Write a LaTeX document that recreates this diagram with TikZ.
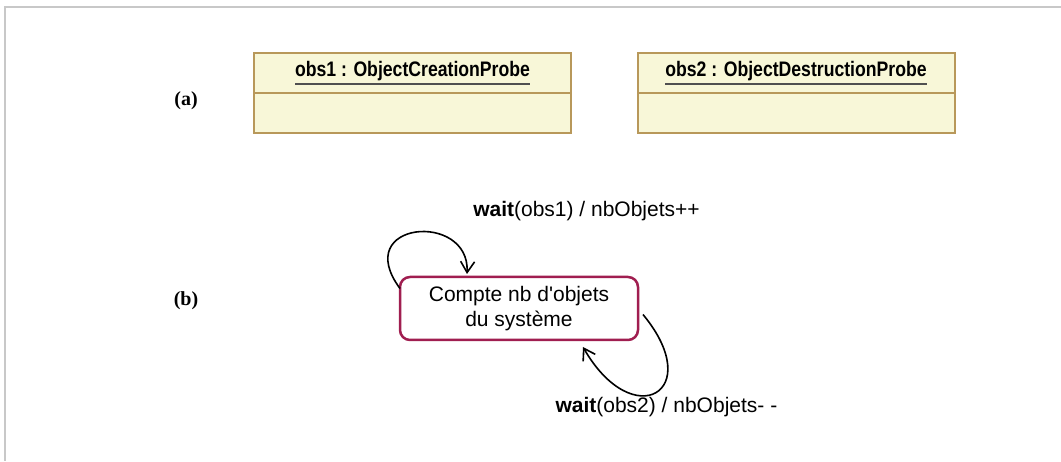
\documentclass[tikz,border=0pt]{standalone}
\usepackage{fontspec}
\setmainfont{Liberation Sans}
\newfontfamily\serifbold{Liberation Serif Bold}
\newfontfamily\narrowbold[FakeStretch=0.84]{Liberation Sans Bold}
\usetikzlibrary{arrows.meta,positioning}
\definecolor{ObjFill}{HTML}{F8F7D8}
\definecolor{ObjBorder}{HTML}{B8985A}
\definecolor{ObjLine}{HTML}{505050}
\definecolor{StateRed}{HTML}{A01E50}
\definecolor{FrameGray}{HTML}{C8C8C8}
\newcommand{\objname}[1]{\setbox0\hbox{#1}\rlap{\usebox0}\raisebox{-8pt}{\textcolor{ObjLine}{\rule{\wd0}{2pt}}}}

\begin{document}
\begin{tikzpicture}[
  x=1pt,y=1pt,
  font=\fontsize{21}{25}\selectfont,
  objhead/.style={
    draw=ObjBorder,
    line width=2pt,
    fill=ObjFill,
    minimum width=317pt,
    minimum height=40pt,
    inner sep=0pt,
    outer sep=0pt,
    font=\narrowbold\fontsize{21}{25}\selectfont
  },
  objbody/.style={
    draw=ObjBorder,
    line width=2pt,
    fill=ObjFill,
    minimum width=317pt,
    minimum height=40pt,
    inner sep=0pt,
    outer sep=0pt
  },
  part/.style={font=\serifbold\fontsize{20}{24}\selectfont},
  statebox/.style={
    draw=StateRed,
    line width=2.5pt,
    rounded corners=10pt,
    fill=white,
    minimum width=238pt,
    minimum height=63pt,
    align=center,
    outer sep=0pt
  },
  trans/.style={-{Straight Barb[length=11pt,width=14pt]},line width=1.6pt}
]
  \useasboundingbox (0,0) rectangle (1061,461);
  \draw[FrameGray,line width=2pt] (1061,454) -- (5,454) -- (5,0);

  % (a) observers
  \node[part] (parta) at (186,360) {(a)};
  \node[objhead] (obs1) at (412.5,388) {\objname{obs1 : ObjectCreationProbe}};
  \node[objbody,below=0pt of obs1] (obs1body) {};
  \node[objhead] (obs2) at (796,388) {\objname{obs2 : ObjectDestructionProbe}};
  \node[objbody,below=0pt of obs2] (obs2body) {};

  % (b) state machine
  \node[part] (partb) at (186,160) {(b)};
  \node[statebox] (count) at (519,152.5) {Compte nb d\textquotesingle objets\\du système};
  \node (incr) at (586.5,250) {\textbf{wait}(obs1) / nbObjets++};
  \node[anchor=west] (decr) at (552,54) {\textbf{wait}(obs2) / nbObjets- -};

  \draw[trans] ([yshift=20pt]count.west) .. controls (350,240) and (470,250) .. ([xshift=-52pt,yshift=3pt]count.north);
  \draw[trans] ([xshift=5pt,yshift=-6pt]count.east) .. controls (707,69) and (633,27) .. ([xshift=64pt,yshift=-7pt]count.south);
\end{tikzpicture}
\end{document}
